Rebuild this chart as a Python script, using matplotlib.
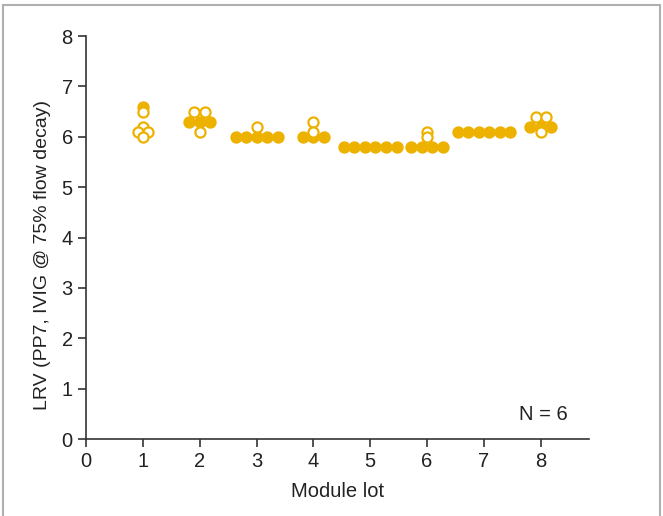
import matplotlib
matplotlib.use("Agg")
import matplotlib.pyplot as plt
from matplotlib.patches import Rectangle

# LRV values per module lot (N = 6), and whether each point is drawn open
lots = [1, 2, 3, 4, 5, 6, 7, 8]
lrv = [
    [6.6, 6.5, 6.2, 6.1, 6.1, 6.0],
    [6.5, 6.5, 6.3, 6.3, 6.3, 6.1],
    [6.2, 6.0, 6.0, 6.0, 6.0, 6.0],
    [6.3, 6.1, 6.0, 6.0, 6.0],
    [5.8, 5.8, 5.8, 5.8, 5.8, 5.8],
    [6.1, 6.0, 5.8, 5.8, 5.8, 5.8],
    [6.1, 6.1, 6.1, 6.1, 6.1, 6.1],
    [6.4, 6.4, 6.2, 6.2, 6.2, 6.1],
]
is_open = [
    [False, True, True, True, True, True],
    [True, True, False, False, False, True],
    [True, False, False, False, False, False],
    [True, True, False, False, False],
    [False, False, False, False, False, False],
    [True, True, False, False, False, False],
    [False, False, False, False, False, False],
    [True, True, False, False, False, True],
]

gold = "#EDB200"
plt.rcParams["font.family"] = ["Liberation Sans", "DejaVu Sans"]

fig = plt.figure(figsize=(6.63, 5.16), dpi=100)
ax = fig.add_axes([0.1297, 0.149, 0.758, 0.781])

step = 0.185
for lot, vals, opens in zip(lots, lrv, is_open):
    # spread points sharing the same value side by side
    groups = {}
    for v, o in zip(vals, opens):
        groups.setdefault(v, []).append(o)
    for v, flags in groups.items():
        k = len(flags)
        for j, o in enumerate(flags):
            x = lot + (j - (k - 1) / 2) * step
            ax.plot(x, v, "o", ms=7.3, mew=1.6, mec=gold,
                    mfc="white" if o else gold, zorder=3 if o else 2)

ax.set_xlim(0, 8.84)
ax.set_ylim(0, 8)
ax.set_xticks(range(0, 9))
ax.set_yticks(range(0, 9))
for s in ["top", "right"]:
    ax.spines[s].set_visible(False)
for s in ["left", "bottom"]:
    ax.spines[s].set_linewidth(1.2)
    ax.spines[s].set_color("#333333")
ax.tick_params(direction="out", length=6, width=1.2, color="#333333",
               labelsize=14.5, labelcolor="#222222")
ax.set_xlabel("Module lot", fontsize=14.5, color="#222222", labelpad=8)
ax.set_ylabel("LRV (PP7, IVIG @ 75% flow decay)", fontsize=14,
              color="#222222")
ax.yaxis.set_label_coords(-0.07, 0.457)
ax.text(8.47, 0.48, "N = 6", ha="right", va="center", fontsize=14.5,
        color="#222222")

# light frame around the figure
fig.patches.append(Rectangle((0.005, -0.01), 0.99, 1.0, transform=fig.transFigure,
                             fill=False, ec="#b0b0b0", lw=1.5))

fig.savefig("out.png", dpi=100)
